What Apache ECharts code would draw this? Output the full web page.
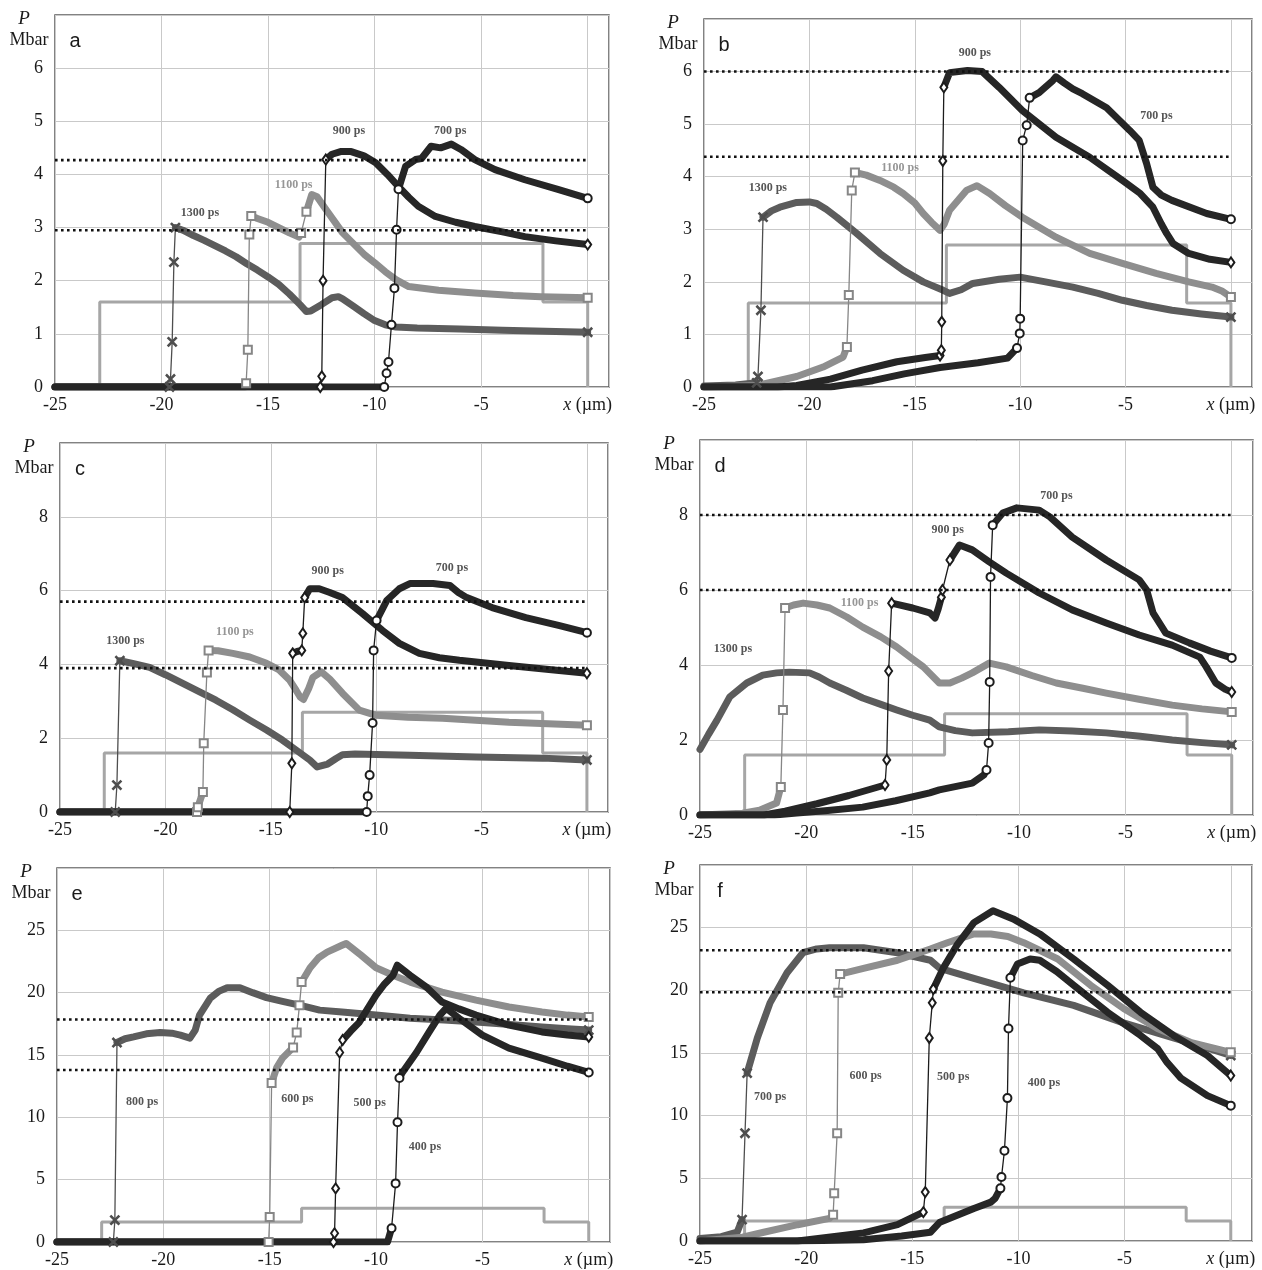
<!DOCTYPE html>
<html>
<head>
<meta charset="utf-8">
<script src="https://cdn.jsdelivr.net/npm/echarts@6/dist/echarts.min.js"></script>
<style>
  html, body { margin: 0; padding: 0; background: #fff; }
  #pressure-chart { width: 1262px; height: 1270px; }
</style>
</head>
<body>
<div id="pressure-chart"></div>
<script>
// x axis (µm) and target step profile (same in every panel)
const xMin = -25, xMax = 1, xStep = 5
const stepX = [-25, -22.9, -22.9, -13.5, -13.5, -2.1, -2.1, 0, 0]
const stepY = [0, 0, 1.6, 1.6, 2.7, 2.7, 1.6, 1.6, 0]

// panel a: 1300, 1100, 900, 700 ps
const a1300 = [[-25,0],[-19.63,0],[-19.58,0.15],[-19.5,0.85],[-19.42,2.35],[-19.35,3.0],[-19,2.95],[-18.5,2.85],[-18,2.76],[-17.5,2.66],[-17,2.56],[-16.5,2.45],[-16,2.32],[-15.5,2.2],[-15,2.07],[-14.5,1.93],[-14,1.75],[-13.5,1.55],[-13.2,1.42],[-13,1.43],[-12.5,1.55],[-12,1.68],[-11.7,1.7],[-11.5,1.66],[-11,1.52],[-10.5,1.38],[-10,1.25],[-9.5,1.17],[-9,1.13],[-8,1.11],[-6,1.09],[-4,1.07],[-2,1.05],[0,1.03]]
const a1100 = [[-25,0],[-16.08,0],[-16.03,0.07],[-15.95,0.7],[-15.88,2.87],[-15.79,3.22],[-15.5,3.17],[-15,3.1],[-14.5,3.0],[-14,2.9],[-13.55,2.82],[-13.45,2.9],[-13.2,3.3],[-12.95,3.62],[-12.7,3.58],[-12.3,3.35],[-11.5,2.9],[-10.5,2.5],[-10,2.34],[-9.5,2.17],[-9,2.02],[-8.4,1.89],[-7,1.82],[-5.3,1.77],[-3.5,1.72],[-2.2,1.7],[0,1.68]]
const a900 = [[-25,0],[-12.55,0],[-12.48,0.2],[-12.42,2.0],[-12.29,4.28],[-12.0,4.38],[-11.6,4.43],[-11.1,4.43],[-10.5,4.35],[-9.95,4.22],[-9.4,4.0],[-8.9,3.78],[-8.4,3.57],[-7.95,3.4],[-7.15,3.21],[-6.2,3.1],[-5.3,3.02],[-4,2.92],[-2.95,2.83],[-1.5,2.75],[0,2.68]]
const a700 = [[-25,0],[-9.55,0],[-9.44,0.26],[-9.35,0.47],[-9.21,1.17],[-9.07,1.86],[-8.97,2.96],[-8.88,3.72],[-8.55,4.15],[-8.08,4.28],[-7.8,4.3],[-7.35,4.53],[-6.9,4.5],[-6.4,4.57],[-5.95,4.47],[-5.3,4.28],[-4.35,4.09],[-2.95,3.9],[-1.4,3.72],[0,3.55]]
const aLevels = [4.27, 2.95]
const aLabels = [['1300 ps', -18.2, 3.28], ['1100 ps', -13.8, 3.81], ['900 ps', -11.2, 4.81], ['700 ps', -6.45, 4.81]]

// panel b
const b1300 = [[-25,0.02],[-23.5,0.04],[-22.5,0.08],[-22.44,0.2],[-22.3,1.46],[-22.2,3.23],[-21.8,3.35],[-21.4,3.42],[-20.6,3.51],[-20,3.52],[-19.65,3.49],[-19.2,3.38],[-18.7,3.23],[-17.75,2.92],[-16.65,2.54],[-15.55,2.22],[-14.6,2.0],[-13.65,1.84],[-13.35,1.78],[-12.8,1.85],[-12.25,1.97],[-11,2.05],[-10,2.09],[-8.8,2.0],[-7.5,1.9],[-6.3,1.78],[-5.15,1.65],[-4,1.55],[-2.8,1.46],[-1.4,1.39],[0,1.33]]
const b1100 = [[-25,0],[-22.5,0.03],[-21.9,0.08],[-20.6,0.2],[-19.35,0.38],[-18.4,0.57],[-18.22,0.76],[-18.13,1.75],[-17.99,3.74],[-17.84,4.08],[-17.3,4.03],[-16.65,3.93],[-16,3.8],[-15.55,3.68],[-15,3.5],[-14.6,3.3],[-14.2,3.13],[-13.8,2.98],[-13.6,3.1],[-13.35,3.36],[-12.55,3.74],[-12.05,3.83],[-11.45,3.68],[-10.7,3.45],[-9.9,3.23],[-8.3,2.85],[-6.7,2.54],[-5.15,2.35],[-3.55,2.16],[-2.0,2.0],[-0.9,1.9],[-0.4,1.82],[0,1.71]]
const b900 = [[-25,0],[-21.5,0],[-20.6,0.03],[-19,0.15],[-17.5,0.32],[-15.85,0.48],[-14.5,0.56],[-13.8,0.6],[-13.74,0.7],[-13.72,1.24],[-13.67,4.3],[-13.62,5.7],[-13.35,5.98],[-12.5,6.02],[-11.8,6.0],[-11.0,5.7],[-9.9,5.26],[-8.3,4.75],[-6.7,4.37],[-5.15,3.93],[-4.3,3.68],[-3.7,3.42],[-3.3,3.1],[-3.05,2.92],[-2.75,2.73],[-2.0,2.54],[-1,2.43],[0,2.37]]
const b700 = [[-25,0],[-19,0],[-17,0.12],[-15.5,0.25],[-13.8,0.37],[-12,0.46],[-10.6,0.55],[-10.15,0.74],[-10.02,1.02],[-10.0,1.3],[-9.88,4.69],[-9.69,4.98],[-9.55,5.5],[-9.1,5.6],[-8.45,5.83],[-8.3,5.9],[-7.9,5.78],[-7.5,5.67],[-7.05,5.58],[-5.9,5.31],[-4.8,4.88],[-4.35,4.69],[-4.0,4.25],[-3.7,3.8],[-3.3,3.65],[-2.8,3.55],[-1.15,3.3],[0,3.19]]
const bLevels = [6.0, 4.38]
const bLabels = [['1300 ps', -21.97, 3.78], ['1100 ps', -15.7, 4.17], ['900 ps', -12.15, 6.36], ['700 ps', -3.53, 5.16]]

// panel c
const c1300 = [[-25,0],[-22.38,0],[-22.3,0.73],[-22.16,4.1],[-21.5,4.02],[-20.75,3.92],[-20,3.72],[-19.2,3.49],[-18.4,3.26],[-17.6,3.03],[-16.8,2.77],[-16.0,2.49],[-15.2,2.22],[-14.45,1.95],[-13.8,1.68],[-13.15,1.41],[-12.8,1.22],[-12.3,1.3],[-11.9,1.45],[-11.6,1.55],[-11,1.57],[-10,1.56],[-8.4,1.54],[-5.25,1.49],[-2.1,1.46],[0,1.41]]
const c1100 = [[-25,0],[-18.5,0],[-18.46,0.13],[-18.22,0.54],[-18.18,1.86],[-18.03,3.78],[-17.95,4.38],[-17.5,4.37],[-16.8,4.3],[-16,4.2],[-15.2,4.03],[-14.6,3.85],[-14.1,3.57],[-13.8,3.3],[-13.6,3.11],[-13.45,3.05],[-13.2,3.35],[-13.0,3.65],[-12.6,3.8],[-12.2,3.6],[-11.6,3.22],[-10.8,2.76],[-10.0,2.62],[-8.5,2.57],[-6.85,2.54],[-3.7,2.43],[0,2.35]]
const c900 = [[-25,0],[-14.1,0],[-14.0,1.32],[-13.96,4.3],[-13.75,4.35],[-13.53,4.38],[-13.48,4.84],[-13.39,5.81],[-13.15,6.05],[-12.7,6.05],[-12.2,5.95],[-11.6,5.81],[-10.65,5.38],[-9.7,4.92],[-8.9,4.57],[-7.95,4.3],[-7,4.18],[-6.05,4.11],[-3.7,3.97],[-1.8,3.86],[0,3.76]]
const c700 = [[-25,0],[-10.45,0],[-10.4,0.43],[-10.31,1.0],[-10.17,2.41],[-10.12,4.38],[-9.98,5.19],[-9.5,5.73],[-8.9,6.05],[-8.4,6.19],[-7.3,6.19],[-6.5,6.14],[-6.1,5.95],[-5.7,5.81],[-4.5,5.54],[-2.9,5.27],[-1.3,5.05],[0,4.86]]
const cLevels = [5.7, 3.9]
const cLabels = [['1300 ps', -21.9, 4.65], ['1100 ps', -16.7, 4.89], ['900 ps', -12.3, 6.54], ['700 ps', -6.4, 6.62]]

// panel d
const d1300 = [[-25,1.75],[-24.6,2.15],[-24.2,2.53],[-23.6,3.15],[-22.8,3.52],[-22.05,3.73],[-21.4,3.79],[-20.8,3.81],[-19.85,3.79],[-19.4,3.68],[-18.9,3.52],[-18.1,3.32],[-17.35,3.12],[-16.5,2.95],[-15.75,2.8],[-15,2.66],[-14.2,2.53],[-13.75,2.35],[-13.0,2.25],[-12.2,2.19],[-10.5,2.22],[-9.05,2.27],[-7.5,2.24],[-5.9,2.19],[-4.3,2.1],[-2.8,2.0],[-1.4,1.93],[0,1.87]]
const d1100 = [[-25,0],[-23,0.05],[-22.2,0.13],[-21.4,0.32],[-21.2,0.75],[-21.1,2.8],[-21.0,5.52],[-20.6,5.6],[-20.15,5.65],[-19.5,5.6],[-18.9,5.52],[-18.1,5.28],[-17.35,5.01],[-16.5,4.75],[-15.75,4.48],[-15.1,4.2],[-14.5,3.95],[-13.75,3.52],[-13.25,3.52],[-12.7,3.65],[-12.2,3.79],[-11.4,4.05],[-10.6,3.95],[-9.4,3.72],[-8.25,3.52],[-7,3.38],[-5.9,3.25],[-4.3,3.08],[-2.8,2.93],[-1.4,2.83],[0,2.75]]
const d900 = [[-25,0],[-22,0],[-21,0.1],[-19.5,0.3],[-18,0.52],[-16.3,0.8],[-16.22,1.47],[-16.13,3.84],[-15.99,5.65],[-15.0,5.52],[-14.2,5.39],[-13.95,5.25],[-13.8,5.5],[-13.65,5.81],[-13.6,6.0],[-13.25,6.8],[-12.8,7.2],[-12.2,7.07],[-11.4,6.75],[-10.6,6.45],[-9.05,5.92],[-7.5,5.47],[-5.9,5.12],[-4.35,4.8],[-2.8,4.53],[-1.5,4.21],[-1.2,3.95],[-0.75,3.52],[-0.3,3.35],[0,3.28]]
const d700 = [[-25,0],[-21.5,0],[-20.45,0.05],[-19,0.12],[-17.35,0.21],[-15.8,0.38],[-14.2,0.59],[-13.75,0.67],[-12.2,0.85],[-11.65,1.07],[-11.53,1.2],[-11.43,1.92],[-11.38,3.55],[-11.34,6.35],[-11.24,7.73],[-10.77,8.05],[-10.1,8.19],[-9.05,8.13],[-8.55,7.95],[-7.5,7.41],[-5.9,6.8],[-4.35,6.27],[-4.0,6.0],[-3.7,5.39],[-3.1,4.85],[-2.0,4.59],[-1,4.37],[0,4.19]]
const dLevels = [8.0, 6.0]
const dLabels = [['1300 ps', -23.45, 4.43], ['1100 ps', -17.5, 5.65], ['900 ps', -13.35, 7.6], ['700 ps', -8.24, 8.5]]

// panel e: 800, 600, 500, 400 ps
const e800 = [[-25,0],[-22.35,0],[-22.28,1.76],[-22.18,16.0],[-21.8,16.3],[-21.4,16.45],[-20.8,16.7],[-20.15,16.8],[-19.6,16.75],[-19.2,16.6],[-18.75,16.35],[-18.5,17.0],[-18.3,18.2],[-17.8,19.55],[-17.4,20.1],[-17.0,20.4],[-16.4,20.4],[-15.8,20.0],[-15.15,19.6],[-14.4,19.3],[-13.6,19.0],[-12.65,18.6],[-11.6,18.45],[-10,18.2],[-8.4,17.95],[-6.8,17.8],[-5.3,17.65],[-3.7,17.45],[-2.2,17.25],[-1,17.1],[0,17.0]]
const e600 = [[-25,0],[-15.05,0],[-15.0,2.0],[-14.91,12.75],[-14.67,14.0],[-14.4,14.75],[-13.9,15.6],[-13.73,16.8],[-13.6,19.0],[-13.5,20.85],[-13.1,22.0],[-12.7,22.8],[-12.3,23.25],[-11.6,23.8],[-11.4,23.95],[-10.7,23.0],[-10.0,22.0],[-9.2,21.4],[-8.4,20.85],[-6.9,20.05],[-5.3,19.4],[-3.75,18.85],[-2.2,18.45],[-1,18.2],[0,18.05]]
const e500 = [[-25,0],[-12.0,0],[-11.95,0.7],[-11.9,4.3],[-11.71,15.2],[-11.57,16.2],[-11.2,16.9],[-10.8,17.6],[-10.4,18.7],[-10.0,19.8],[-9.6,20.7],[-9.2,21.4],[-9.0,22.2],[-8.7,21.8],[-8.4,21.4],[-7.6,20.4],[-6.9,19.25],[-6.1,18.7],[-5.3,18.2],[-3.75,17.4],[-2.2,16.85],[-1,16.6],[0,16.45]]
const e400 = [[-25,0],[-9.46,0],[-9.27,1.1],[-9.08,4.7],[-8.99,9.6],[-8.9,13.15],[-8.76,13.6],[-8.1,15.2],[-7.5,16.85],[-7.0,18.2],[-6.7,18.75],[-6.1,17.95],[-5.0,16.6],[-3.75,15.55],[-2.2,14.75],[-1,14.1],[0,13.6]]
const eLevels = [17.85, 13.8]
const eLabels = [['800 ps', -21.0, 11.2], ['600 ps', -13.7, 11.5], ['500 ps', -10.3, 11.15], ['400 ps', -7.7, 7.6]]

// panel f: 700, 600, 500, 400 ps
const f700 = [[-25,0.2],[-24,0.35],[-23.25,0.7],[-23.02,1.7],[-22.88,8.6],[-22.78,13.4],[-22.3,16.2],[-21.7,19.0],[-20.9,21.4],[-20.15,23.0],[-19.5,23.3],[-18.9,23.4],[-17.3,23.4],[-15.7,23.0],[-14.15,22.4],[-13.7,21.75],[-12.1,20.95],[-9.75,19.8],[-7.4,18.8],[-5.05,17.4],[-2.7,16.2],[-1.3,15.5],[0,14.8]]
const f600 = [[-25,0],[-23,0.3],[-22.0,0.7],[-20.4,1.3],[-18.9,1.8],[-18.73,2.1],[-18.68,3.8],[-18.54,8.6],[-18.49,19.8],[-18.4,21.3],[-17.3,21.75],[-15.7,22.4],[-14.15,23.3],[-13.35,23.8],[-12.1,24.5],[-11.3,24.5],[-10.5,24.3],[-9.75,23.8],[-8.15,22.5],[-6.6,20.4],[-5.05,18.55],[-3.45,16.95],[-1.9,15.85],[0,15.05]]
const f500 = [[-25,0],[-20.4,0],[-17.3,0.65],[-15.7,1.3],[-14.48,2.3],[-14.39,3.9],[-14.2,16.2],[-14.06,19.0],[-14.01,20.1],[-13.55,21.75],[-12.9,23.6],[-12.1,25.4],[-11.2,26.35],[-10.25,25.7],[-9.0,24.5],[-7.4,22.5],[-5.8,20.4],[-4.25,18.25],[-2.7,16.4],[-1.1,14.8],[0,13.2]]
const f400 = [[-25,0],[-20.5,0],[-17.3,0.1],[-15.5,0.4],[-14.15,0.7],[-13.7,1.5],[-12.1,2.6],[-11.3,3.1],[-11.1,3.4],[-10.85,4.2],[-10.8,5.1],[-10.66,7.2],[-10.52,11.4],[-10.47,16.95],[-10.38,21.0],[-10.05,22.1],[-9.45,22.5],[-9.0,22.4],[-8.2,21.5],[-7.4,20.4],[-5.8,18.25],[-4.25,16.4],[-3.45,15.35],[-3.0,14.25],[-2.35,13.0],[-1.1,11.6],[0,10.8]]
const fLevels = [23.2, 19.85]
const fLabels = [['700 ps', -21.7, 11.5], ['600 ps', -17.2, 13.2], ['500 ps', -13.07, 13.06], ['400 ps', -8.8, 12.6]]

const panels = [
  { letter: 'a', grid: { left: 55, top: 15, width: 554, height: 372 }, yMax: 7, yStep: 1, curves: [a1300, a1100, a900, a700], levels: aLevels, labels: aLabels, grayLabel: true },
  { letter: 'b', grid: { left: 704, top: 19, width: 548, height: 368 }, yMax: 7, yStep: 1, curves: [b1300, b1100, b900, b700], levels: bLevels, labels: bLabels, grayLabel: true },
  { letter: 'c', grid: { left: 60, top: 443, width: 548, height: 369 }, yMax: 10, yStep: 2, curves: [c1300, c1100, c900, c700], levels: cLevels, labels: cLabels, grayLabel: true },
  { letter: 'd', grid: { left: 700, top: 440, width: 553, height: 375 }, yMax: 10, yStep: 2, curves: [d1300, d1100, d900, d700], levels: dLevels, labels: dLabels, grayLabel: true },
  { letter: 'e', grid: { left: 57, top: 868, width: 553, height: 374 }, yMax: 30, yStep: 5, curves: [e800, e600, e500, e400], levels: eLevels, labels: eLabels, grayLabel: false },
  { letter: 'f', grid: { left: 700, top: 865, width: 552, height: 376 }, yMax: 30, yStep: 5, curves: [f700, f600, f500, f400], levels: fLevels, labels: fLabels, grayLabel: false }
]

// marker styles: cross, square, diamond, circle
const crossPath = 'path://M0,1L1,0L5,4L9,0L10,1L6,5L10,9L9,10L5,6L1,10L0,9L4,5Z'
const curveStyles = [
  { symbol: crossPath, size: 9, color: '#4e4e4e', band: '#5c5c5c' },
  { symbol: 'emptyRect', size: 8, color: '#868686', band: '#8e8e8e' },
  { symbol: 'emptyDiamond', size: [7, 10], color: '#1c1c1c', band: '#262626' },
  { symbol: 'emptyCircle', size: 8, color: '#1c1c1c', band: '#262626' }
]

const serif = '"Liberation Serif", "DejaVu Serif", serif'

// steep parts (shock fronts) are drawn thin with markers, the rest as a thick band of markers
function splitRuns (pts, w, h, yMax) {
  const sx = w / (xMax - xMin), sy = h / yMax
  const runs = []
  let cur = null
  for (let i = 0; i < pts.length - 1; i++) {
    const dx = Math.abs(pts[i + 1][0] - pts[i][0]) * sx
    const dy = Math.abs(pts[i + 1][1] - pts[i][1]) * sy
    const steep = dy > 3.8 * dx
    if (!cur || cur.steep !== steep) {
      cur = { steep: steep, pts: [pts[i]] }
      runs.push(cur)
    }
    cur.pts.push(pts[i + 1])
  }
  return runs
}

const grids = [], xAxes = [], yAxes = [], series = [], graphics = []

panels.forEach((p, gi) => {
  grids.push(Object.assign({ show: true, borderColor: '#5a5a5a', borderWidth: 1.5, backgroundColor: '#fff' }, p.grid))
  xAxes.push({
    type: 'value', gridIndex: gi, min: xMin, max: xMax, interval: xStep,
    axisLine: { show: false }, axisTick: { show: false },
    splitLine: { show: true, lineStyle: { color: '#c9c9c9', width: 1 } },
    axisLabel: {
      margin: 9, color: '#1a1a1a', fontFamily: serif, fontSize: 18, showMaxLabel: false,
      formatter: v => v === 0 ? '{i|x} (µm)' : String(v),
      rich: { i: { fontStyle: 'italic', fontFamily: serif, fontSize: 18, color: '#1a1a1a' } }
    }
  })
  yAxes.push({
    type: 'value', gridIndex: gi, min: 0, max: p.yMax, interval: p.yStep,
    axisLine: { show: false }, axisTick: { show: false },
    splitLine: { show: true, lineStyle: { color: '#c9c9c9', width: 1 } },
    axisLabel: { margin: 12, color: '#1a1a1a', fontFamily: serif, fontSize: 18, showMaxLabel: false }
  })

  // step profile
  series.push({
    type: 'line', xAxisIndex: gi, yAxisIndex: gi, z: 2, silent: true, animation: false,
    data: stepX.map((x, i) => [x, stepY[i]]), showSymbol: false,
    lineStyle: { color: '#a6a6a6', width: 3 }
  })

  p.curves.forEach((pts, ci) => {
    const st = curveStyles[ci]
    const runs = splitRuns(pts, p.grid.width, p.grid.height, p.yMax)
    runs.forEach((r, ri) => {
      const last = ri === runs.length - 1
      const n = r.pts.length
      series.push({
        type: 'line', xAxisIndex: gi, yAxisIndex: gi, z: 3, silent: true, animation: false,
        data: r.pts, symbol: st.symbol, showAllSymbol: true,
        showSymbol: r.steep || last,
        symbolSize: r.steep ? st.size : (v, prm) => (prm.dataIndex === n - 1 ? st.size : 0),
        itemStyle: { color: st.color, borderColor: st.color, borderWidth: 1.3 },
        lineStyle: r.steep
          ? { color: st.color, width: 1.3 }
          : { color: st.band, width: 7, cap: 'round', join: 'round' }
      })
    })
  })

  // dotted reference levels
  p.levels.forEach(v => {
    series.push({
      type: 'line', xAxisIndex: gi, yAxisIndex: gi, z: 6, silent: true, animation: false,
      data: [[xMin, v], [0, v]], showSymbol: false,
      lineStyle: { color: '#111', width: 2.6, type: [2.6, 3.4] }
    })
  })

  // time labels
  series.push({
    type: 'scatter', xAxisIndex: gi, yAxisIndex: gi, z: 7, silent: true, animation: false,
    symbolSize: 0,
    data: p.labels.map((l, li) => ({
      name: l[0], value: [l[1], l[2]],
      label: { color: (p.grayLabel && li === 1) ? '#7c7c7c' : '#2a2a2a' }
    })),
    label: { show: true, position: 'inside', formatter: '{b}', fontFamily: serif, fontWeight: 'bold', fontSize: 12 }
  })

  const g = p.grid
  graphics.push(
    { type: 'text', x: g.left - 31, y: g.top + 4, style: { text: 'P', font: 'italic 19px ' + serif, fill: '#1a1a1a', align: 'center', verticalAlign: 'middle' } },
    { type: 'text', x: g.left - 26, y: g.top + 25, style: { text: 'Mbar', font: '18px ' + serif, fill: '#1a1a1a', align: 'center', verticalAlign: 'middle' } },
    { type: 'text', x: g.left + 20, y: g.top + 26, style: { text: p.letter, font: '20px "Liberation Sans", Arial, sans-serif', fill: '#1a1a1a', align: 'center', verticalAlign: 'middle' } }
  )
})

const myChart = echarts.init(document.getElementById('pressure-chart'))
myChart.setOption({
  backgroundColor: '#fff',
  animation: false,
  grid: grids,
  xAxis: xAxes,
  yAxis: yAxes,
  series: series,
  graphic: graphics
})
</script>
</body>
</html>
